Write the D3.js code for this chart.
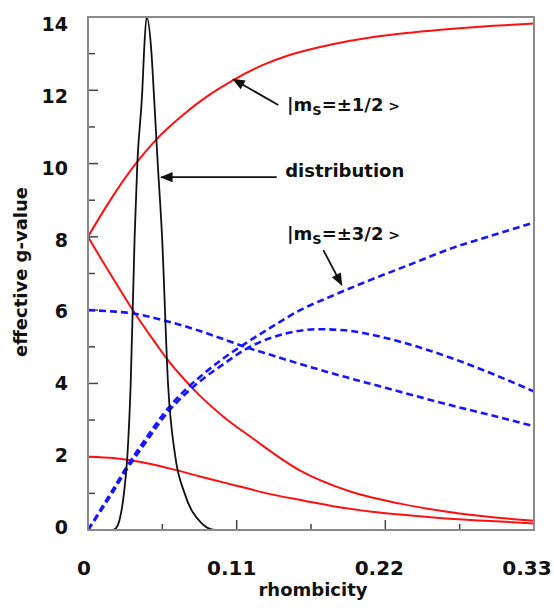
<!DOCTYPE html>
<html>
<head>
<meta charset="utf-8">
<script src="https://cdn.jsdelivr.net/npm/d3@7"></script>
<style>
  body { margin: 0; background: #fff; }
  text { font-family: "DejaVu Sans", sans-serif; font-weight: bold; fill: #111; }
</style>
</head>
<body>
<div id="chart"></div>
<script>
// ticks
const xMajorTicks = [0, 0.11, 0.22, 0.33];
const xMinorTicks = [0.055, 0.165, 0.275];
const yMajorTicks = [0, 2, 4, 6, 8, 10, 12, 14];
const yMinorTicks = [1, 3, 5, 7, 9, 11, 13];

// |ms=±1/2> doublet (red)
const half1 = [[0, 8], [0.01, 8.62], [0.02, 9.2], [0.0365, 10.05], [0.0506, 10.66], [0.07, 11.32], [0.09, 11.88],
  [0.1075, 12.28], [0.13, 12.7], [0.148, 12.95], [0.18, 13.25], [0.21, 13.45], [0.24, 13.58], [0.27, 13.68],
  [0.30, 13.76], [0.33, 13.82]];
const half2 = [[0, 8], [0.01, 7.38], [0.02, 6.78], [0.0348, 5.91], [0.05, 5.1], [0.0594, 4.62], [0.0715, 4.1],
  [0.0829, 3.66], [0.1, 3.1], [0.12, 2.55], [0.157, 1.62], [0.194, 1.05], [0.231, 0.72], [0.275, 0.45],
  [0.33, 0.25]];
const half3 = [[0, 2], [0.02, 1.96], [0.04, 1.85], [0.0666, 1.62], [0.0829, 1.46], [0.1, 1.3], [0.1184, 1.13],
  [0.1322, 1.0], [0.16, 0.8], [0.1815, 0.65], [0.21, 0.5], [0.231, 0.42], [0.26, 0.33], [0.29, 0.26], [0.33, 0.18]];

// |ms=±3/2> doublet (blue, dashed)
const threeHalf1 = [[0, 0], [0.01, 0.6], [0.02, 1.2], [0.0284, 1.71], [0.04, 2.35], [0.0592, 3.32], [0.0728, 3.85],
  [0.0829, 4.18], [0.1, 4.68], [0.116, 5.08], [0.135, 5.52], [0.1569, 6.0], [0.18, 6.38], [0.2087, 6.82],
  [0.24, 7.27], [0.2654, 7.64], [0.30, 8.05], [0.33, 8.39]];
const threeHalf2 = [[0, 0], [0.01, 0.55], [0.02, 1.13], [0.0284, 1.64], [0.04, 2.25], [0.0592, 3.22], [0.0728, 3.74],
  [0.0829, 4.06], [0.1, 4.52], [0.116, 4.92], [0.135, 5.24], [0.1569, 5.44], [0.1717, 5.48], [0.19, 5.45],
  [0.216, 5.28], [0.2309, 5.14], [0.2728, 4.64], [0.30, 4.25], [0.33, 3.78]];
const threeHalf3 = [[0, 6.0], [0.02, 5.96], [0.0348, 5.9], [0.0582, 5.7], [0.0829, 5.43], [0.1, 5.21], [0.116, 5.0],
  [0.135, 4.78], [0.157, 4.53], [0.19, 4.18], [0.216, 3.92], [0.231, 3.77], [0.27, 3.39], [0.3126, 3.0], [0.33, 2.83]];

// rhombicity distribution (black)
const distribution = [[0, 0], [0.018, 0], [0.0207, 0.05], [0.0235, 0.3], [0.0266, 1], [0.0291, 2], [0.0316, 4],
  [0.0345, 8], [0.0365, 10], [0.0402, 12], [0.0414, 13], [0.0434, 14], [0.047, 13], [0.0486, 12], [0.0516, 10],
  [0.0548, 8], [0.0592, 4], [0.0646, 2], [0.0715, 1], [0.0836, 0.2], [0.094, 0], [0.33, 0]];

const svgWidth = 554, svgHeight = 609;
const plot = { left: 88, right: 534, top: 17, bottom: 530 };

const svg = d3.select("#chart").append("svg")
  .attr("width", svgWidth)
  .attr("height", svgHeight);

const x = d3.scaleLinear().domain([0, 0.33]).range([plot.left, plot.right]);
const y = d3.scaleLinear().domain([0, 14]).range([plot.bottom, plot.top]);
// tick labels sit a little off the tick positions in the original
const xLabel = d3.scaleLinear().domain([0, 0.33]).range([84, 527]);
const yLabel = d3.scaleLinear().domain([0, 14]).range([527, 24.5]);

// inward ticks
const tickG = svg.append("g").attr("stroke", "#444").attr("stroke-width", 1.5);
tickG.selectAll(".xt").data(xMajorTicks.slice(1, -1).concat(xMinorTicks)).enter().append("line")
  .attr("x1", d => x(d)).attr("x2", d => x(d))
  .attr("y1", plot.bottom).attr("y2", d => plot.bottom - (xMajorTicks.includes(d) ? 10 : 6));
tickG.selectAll(".yt").data(yMajorTicks.slice(1, -1).concat(yMinorTicks)).enter().append("line")
  .attr("y1", d => y(d)).attr("y2", d => y(d))
  .attr("x1", plot.left).attr("x2", d => plot.left + (yMajorTicks.includes(d) ? 10 : 7));

svg.append("g").selectAll("text").data(xMajorTicks).enter().append("text")
  .attr("x", d => xLabel(d)).attr("y", 575)
  .attr("text-anchor", "middle").attr("font-size", 20)
  .text(d => d === 0 ? "0" : d.toFixed(2));
svg.append("g").selectAll("text").data(yMajorTicks).enter().append("text")
  .attr("x", 68).attr("y", d => yLabel(d)).attr("dy", "0.36em")
  .attr("text-anchor", "end").attr("font-size", 19)
  .text(d => d);

svg.append("text").attr("x", 313).attr("y", 596).attr("text-anchor", "middle")
  .attr("font-size", 18).text("rhombicity");
svg.append("text").attr("transform", "translate(27,272) rotate(-90)").attr("text-anchor", "middle")
  .attr("font-size", 18).text("effective g-value");

const line = d3.line().x(d => x(d[0])).y(d => y(d[1])).curve(d3.curveMonotoneX);

const curves = svg.append("g").attr("fill", "none");
[half1, half2, half3].forEach(s => curves.append("path").attr("d", line(s))
  .attr("stroke", "#ff1010").attr("stroke-width", 2));
[threeHalf1, threeHalf2, threeHalf3].forEach(s => curves.append("path").attr("d", line(s))
  .attr("stroke", "#1515ff").attr("stroke-width", 2.6).attr("stroke-dasharray", "7,4"));
curves.append("path").attr("d", line(distribution))
  .attr("stroke", "#111").attr("stroke-width", 1.8);

// frame
svg.append("rect").attr("x", plot.left).attr("y", plot.top)
  .attr("width", plot.right - plot.left).attr("height", plot.bottom - plot.top)
  .attr("fill", "none").attr("stroke", "#8a8a8a").attr("stroke-width", 2);

// annotations
svg.append("defs").append("marker").attr("id", "arrow")
  .attr("viewBox", "0 0 10 10").attr("refX", 9).attr("refY", 5)
  .attr("markerWidth", 9).attr("markerHeight", 7).attr("orient", "auto")
  .append("path").attr("d", "M0,1 L10,5 L0,9 Z").attr("fill", "#111");

const arrows = [
  { from: [0.1408, 11.6], to: [0.1075, 12.3] },
  { from: [0.1396, 9.63], to: [0.0542, 9.63] },
  { from: [0.1741, 7.64], to: [0.1877, 6.69] }
];
svg.append("g").selectAll("line").data(arrows).enter().append("line")
  .attr("x1", d => x(d.from[0])).attr("y1", d => y(d.from[1]))
  .attr("x2", d => x(d.to[0])).attr("y2", d => y(d.to[1]))
  .attr("stroke", "#111").attr("stroke-width", 1.8).attr("marker-end", "url(#arrow)");

function ketLabel(xv, yv, frac) {
  const t = svg.append("text").attr("x", x(xv)).attr("y", y(yv)).attr("font-size", 18);
  t.append("tspan").text("|m");
  t.append("tspan").attr("font-size", 13).attr("dy", 4).text("S");
  t.append("tspan").attr("dy", -4).text("=\u00b1" + frac);
  t.append("tspan").attr("font-size", 14).text(" >");
}
ketLabel(0.1472, 11.44, "1/2");
ketLabel(0.1472, 7.91, "3/2");
svg.append("text").attr("x", x(0.1459)).attr("y", y(9.63)).attr("font-size", 18).text("distribution");
</script>
</body>
</html>
